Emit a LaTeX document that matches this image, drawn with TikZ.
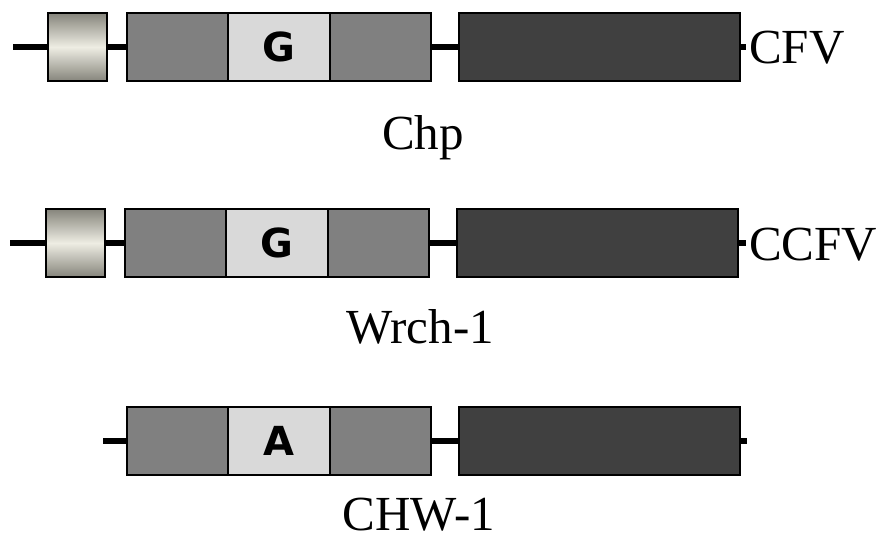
\documentclass[tikz,border=0pt]{standalone}
\usepackage{fontspec}
\setmainfont{Liberation Serif}
\newfontfamily\boxfont{DejaVu Sans}
\definecolor{midgray}{HTML}{808080}
\definecolor{lightgray}{HTML}{D9D9D9}
\definecolor{darkgray}{HTML}{404040}
\definecolor{capedge}{HTML}{86857C}
\definecolor{capmid}{HTML}{EEEDE3}
\tikzset{
  seg/.style={draw=black, line width=1.5pt, inner sep=0pt, outer sep=0pt, anchor=north west, minimum height=68pt},
  graybox/.style={seg, fill=midgray, minimum width=101pt},
  gbox/.style={seg, fill=lightgray, minimum width=102pt, font=\boxfont\bfseries\fontsize{40}{40}\selectfont},
  darkbox/.style={seg, fill=darkgray, minimum width=281pt},
  capbox/.style={seg, top color=capedge, bottom color=capedge, middle color=capmid, minimum width=59pt},
  link/.style={line width=6pt},
  lbl/.style={font=\fontsize{49}{49}\selectfont, inner sep=0pt},
}
\begin{document}
\begin{tikzpicture}[x=1pt,y=-1pt]
\useasboundingbox (0,0) rectangle (882,541);
% Row 1
\coordinate (s1) at (13,47);
\node[capbox] (c1) at (48,13) {};
\node[graybox] (a1) at (127,13) {};
\node[gbox] (g1) at (228,13) {G};
\node[graybox] (b1) at (330,13) {};
\node[darkbox] (d1) at (459,13) {};
\coordinate (e1) at (746,47);
\draw[link] (s1) -- (c1.west);
\draw[link] (c1.east) -- (a1.west);
\draw[link] (b1.east) -- (d1.west);
\draw[link] (d1.east) -- (e1);
\node[lbl, anchor=base west] (t1) at (749,63) {CFV};
\node[lbl, anchor=base] (n1) at (423,149) {Chp};
% Row 2
\coordinate (s2) at (10,243);
\node[capbox] (c2) at (46,209) {};
\node[graybox] (a2) at (125,209) {};
\node[gbox] (g2) at (226,209) {G};
\node[graybox] (b2) at (328,209) {};
\node[darkbox] (d2) at (457,209) {};
\coordinate (e2) at (746,243);
\draw[link] (s2) -- (c2.west);
\draw[link] (c2.east) -- (a2.west);
\draw[link] (b2.east) -- (d2.west);
\draw[link] (d2.east) -- (e2);
\node[lbl, anchor=base west] (t2) at (749,260) {CCFV};
\node[lbl, anchor=base] (n2) at (420,343) {Wrch-1};
% Row 3
\coordinate (s3) at (103,441);
\node[graybox] (a3) at (127,407) {};
\node[gbox] (g3) at (228,407) {A};
\node[graybox] (b3) at (330,407) {};
\node[darkbox] (d3) at (459,407) {};
\coordinate (e3) at (747,441);
\draw[link] (s3) -- (a3.west);
\draw[link] (b3.east) -- (d3.west);
\draw[link] (d3.east) -- (e3);
\node[lbl, anchor=base] (n3) at (419,530) {CHW-1};
\end{tikzpicture}
\end{document}
